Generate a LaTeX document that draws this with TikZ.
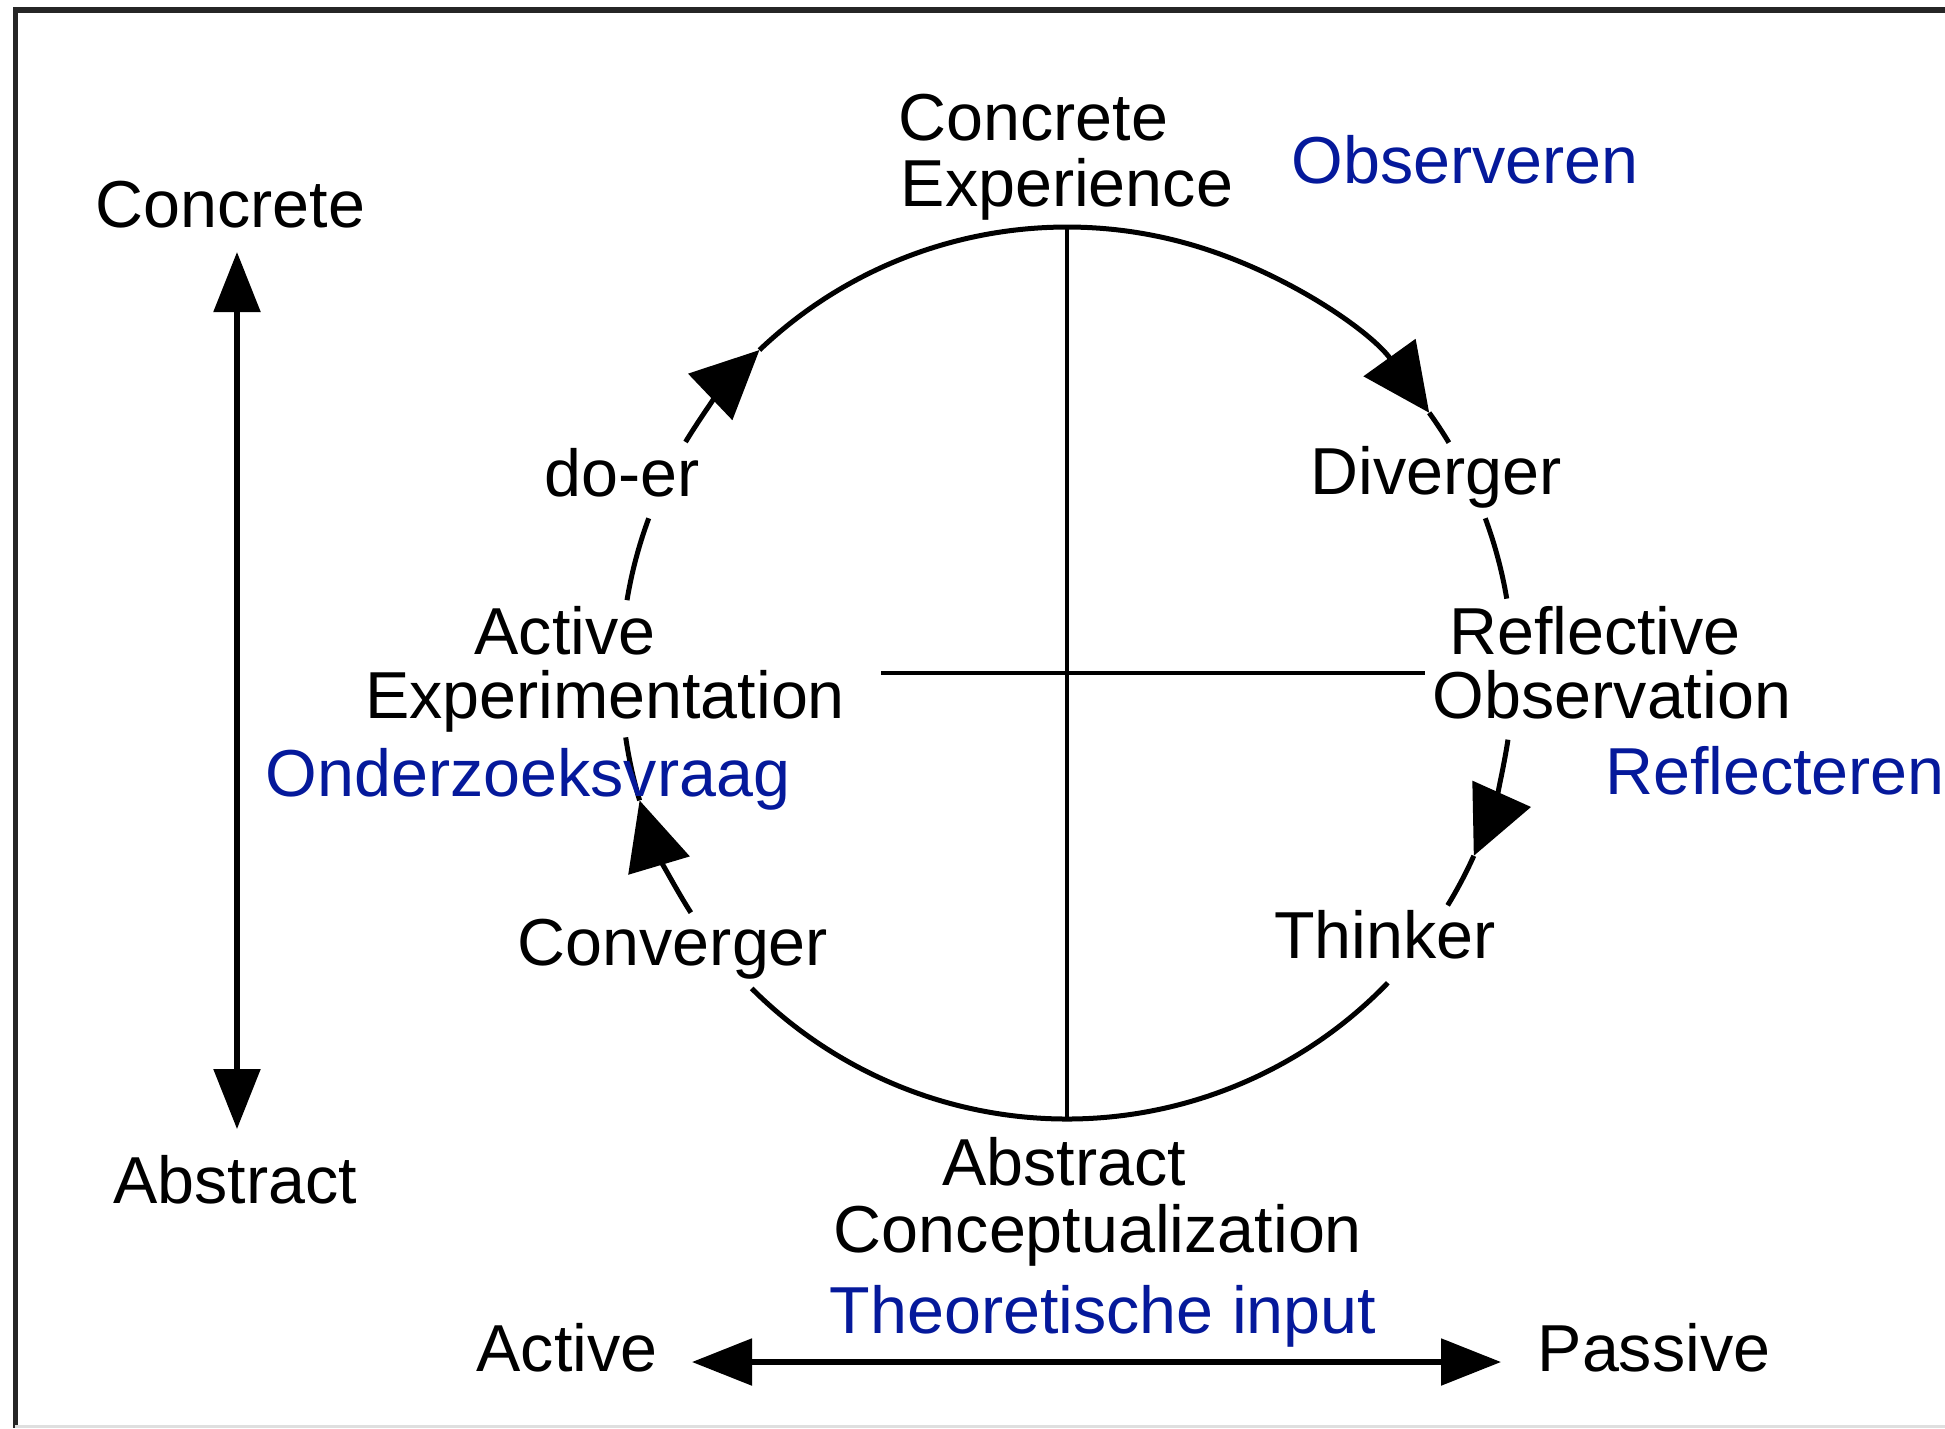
\documentclass[tikz,border=0pt]{standalone}
\usepackage{fontspec}
\setmainfont{Liberation Sans}
\usetikzlibrary{arrows.meta}
\definecolor{nlblue}{RGB}{5,25,155}
\begin{document}
\begin{tikzpicture}[lbl/.style={font=\fontsize{18.9}{19}\selectfont,inner sep=0pt,anchor=base},
  nl/.style={lbl,text=nlblue}, cyc/.style={line width=.05cm},
  >={Triangle[length=.68cm,width=.63cm]},
  axis/.style={line width=.055cm,{Triangle[length=.6cm,width=.46cm]}-{Triangle[length=.6cm,width=.46cm]}}]
\useasboundingbox (0,0) rectangle (19.45,-14.28);
\draw[line width=.055cm,black!85] (19.45,-.10)--(.155,-.10)--(.155,-14.28); \draw[gray!25,line width=.03cm] (.155,-14.265)--(19.45,-14.265);
% cycle
\coordinate (c) at (10.67,-6.73);
\draw[line width=.04cm] (10.67,-2.27)--(10.67,-11.19); \draw[line width=.04cm] (8.81,-6.73)--(14.25,-6.73);
\draw[cyc,->] (c) ++(148.8:4.46) arc[start angle=148.8,end angle=133.6,radius=4.46];
\draw[cyc,->] (c) ++(133.6:4.46) arc[start angle=133.6,end angle=35.7,radius=4.46];
\draw[cyc,->] (c) ++(-8.6:4.46) arc[start angle=-8.6,end angle=-24.2,radius=4.46];
\draw[cyc,->] (c) ++(-147.5:4.46) arc[start angle=-147.5,end angle=-163.4,radius=4.46];
\draw[cyc] (c) ++(35.7:4.46) arc[start angle=35.7,end angle=31.1,radius=4.46] (c) ++(20.3:4.46) arc[start angle=20.3,end angle=9.6,radius=4.46];
\draw[cyc] (c) ++(-24.2:4.46) arc[start angle=-24.2,end angle=-31.4,radius=4.46] (c) ++(-44:4.46) arc[start angle=-44,end angle=-135,radius=4.46];
\draw[cyc] (c) ++(-163.4:4.46) arc[start angle=-163.4,end angle=-171.7,radius=4.46] (c) ++(170.6:4.46) arc[start angle=170.6,end angle=159.7,radius=4.46];
\node[lbl,anchor=base west] (ce1) at (8.98,-1.40) {Concrete}; \node[lbl,anchor=base west] (ce2) at (9.00,-2.06) {Experience};
\node[lbl] (doer) at (6.22,-4.96) {do-er}; \node[lbl] (div) at (14.36,-4.94) {Diverger};
\node[lbl] (ae1) at (5.65,-6.54) {Active}; \node[lbl] (ae2) at (6.05,-7.18) {Experimentation};
\node[lbl] (ro1) at (15.95,-6.54) {Reflective}; \node[lbl] (ro2) at (16.12,-7.18) {Observation};
\node[lbl] (conv) at (6.73,-9.65) {Converger}; \node[lbl] (think) at (13.85,-9.58) {Thinker};
\node[lbl] (ac1) at (10.64,-11.85) {Abstract}; \node[lbl] (ac2) at (10.98,-12.52) {Conceptualization};
% axes
\node[lbl] (concr) at (2.305,-2.27) {Concrete}; \node[lbl] (abstr) at (2.35,-12.03) {Abstract};
\coordinate (vtop) at (2.37,-2.52); \coordinate (vbot) at (2.37,-11.29); \draw[axis] (vtop)--(vbot);
\node[lbl] (act) at (5.67,-13.71) {Active}; \node[lbl] (pas) at (16.54,-13.71) {Passive};
\coordinate (hl) at (6.92,-13.62); \coordinate (hr) at (15.01,-13.62); \draw[axis] (hl)--(hr);
% dutch notes
\node[nl] (obs) at (14.65,-1.83) {Observeren}; \node[nl] (refl) at (17.75,-7.94) {Reflecteren};
\node[nl] (ozv) at (5.28,-7.96) {Onderzoeksvraag}; \node[nl] (theo) at (11.03,-13.33) {Theoretische input};
\end{tikzpicture}
\end{document}
